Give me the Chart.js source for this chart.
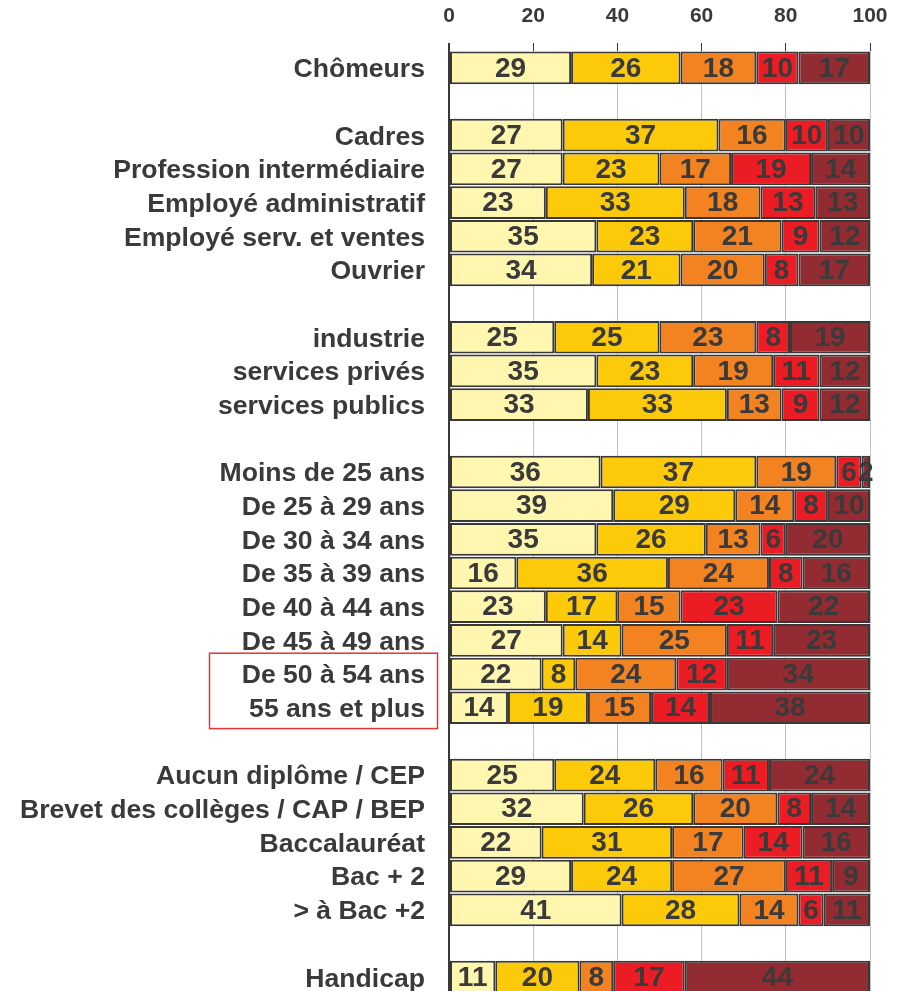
<!DOCTYPE html>
<html>
<head>
<meta charset="utf-8">
<script src="https://cdn.jsdelivr.net/npm/chart.js@4"></script>
<style>
  html, body { margin: 0; padding: 0; background: #fff; overflow: hidden; }
  #chart { position: absolute; left: 0; top: 0; }
</style>
</head>
<body>
<canvas id="chart" width="904" height="994"></canvas>
<script>
// catégories (les '' sont des lignes vides de séparation)
const categories = [
  "Chômeurs", "",
  "Cadres", "Profession intermédiaire", "Employé administratif", "Employé serv. et ventes", "Ouvrier", "",
  "industrie", "services privés", "services publics", "",
  "Moins de 25 ans", "De 25 à 29 ans", "De 30 à 34 ans", "De 35 à 39 ans", "De 40 à 44 ans",
  "De 45 à 49 ans", "De 50 à 54 ans", "55 ans et plus", "",
  "Aucun diplôme / CEP", "Brevet des collèges / CAP / BEP", "Baccalauréat", "Bac + 2", "> à Bac +2", "",
  "Handicap"
];

// séries (%)
const serie1 = [29,null,27,27,23,35,34,null,25,35,33,null,36,39,35,16,23,27,22,14,null,25,32,22,29,41,null,11];
const serie2 = [26,null,37,23,33,23,21,null,25,23,33,null,37,29,26,36,17,14,8,19,null,24,26,31,24,28,null,20];
const serie3 = [18,null,16,17,18,21,20,null,23,19,13,null,19,14,13,24,15,25,24,15,null,16,20,17,27,14,null,8];
const serie4 = [10,null,10,19,13,9,8,null,8,11,9,null,6,8,6,8,23,11,12,14,null,11,8,14,11,6,null,17];
const serie5 = [17,null,10,14,13,12,17,null,19,12,12,null,2,10,20,16,22,23,34,38,null,24,14,16,9,11,null,44];

const xTicks = [0, 20, 40, 60, 80, 100];

// lignes encadrées en rouge
const boxedRows = ["De 50 à 54 ans", "55 ans et plus"];

const colors = ["#fff6b0", "#fdca0a", "#f38221", "#ec1c24", "#922c32"];
const series = [serie1, serie2, serie3, serie4, serie5];
const TXT = "#3a3a3a";
const FONT = "'Liberation Sans', Arial, sans-serif";

// étiquettes de valeurs centrées dans les segments
const valueLabels = {
  id: "valueLabels",
  afterDatasetsDraw(chart) {
    const ctx = chart.ctx;
    ctx.save();
    ctx.font = "bold 28px " + FONT;
    ctx.fillStyle = TXT;
    ctx.textAlign = "center";
    ctx.textBaseline = "middle";
    chart.data.datasets.forEach((ds, di) => {
      chart.getDatasetMeta(di).data.forEach((bar, i) => {
        const v = ds.data[i];
        if (v == null) return;
        const p = bar.getProps(["x", "y", "base"], true);
        ctx.fillText(String(v), (p.x + p.base) / 2, p.y + 1);
      });
    });
    ctx.restore();
  }
};

// cadre rouge autour des libellés
const redBox = {
  id: "redBox",
  afterDraw(chart) {
    const y = chart.scales.y;
    const i0 = categories.indexOf(boxedRows[0]);
    const i1 = categories.indexOf(boxedRows[boxedRows.length - 1]);
    const half = (y.getPixelForValue(1) - y.getPixelForValue(0)) / 2;
    const top = y.getPixelForValue(i0) - half - 4;
    const bot = y.getPixelForValue(i1) + half + 4;
    const ctx = chart.ctx;
    ctx.save();
    ctx.strokeStyle = "#e8323a";
    ctx.lineWidth = 1.5;
    ctx.strokeRect(209.5, top, 228, bot - top);
    ctx.restore();
  }
};

new Chart(document.getElementById("chart"), {
  type: "bar",
  data: {
    labels: categories,
    datasets: series.map((s, k) => ({
      label: "Modalité " + (k + 1),
      data: s,
      backgroundColor: colors[k],
      borderColor: "#383838",
      borderWidth: 2,
      borderSkipped: false,
      barPercentage: 0.97,
      categoryPercentage: 1
    }))
  },
  options: {
    indexAxis: "y",
    responsive: false,
    animation: false,
    layout: { padding: { left: 0, right: 34, top: 0, bottom: 0 } },
    plugins: { legend: { display: false }, tooltip: { enabled: false } },
    scales: {
      x: {
        position: "top",
        stacked: true,
        min: 0, max: 100,
        afterBuildTicks: (s) => { s.ticks = xTicks.map(v => ({ value: v })); },
        afterFit: (s) => { s.height = 51; s.paddingLeft = 0; s.paddingRight = 0; },
        border: { display: false },
        grid: {
          color: (c) => c.tick && c.tick.value === 0 ? "#383838" : "#c9c1c1",
          lineWidth: (c) => c.tick && c.tick.value === 0 ? 2 : 1,
          tickColor: "#383838",
          tickLength: 8
        },
        ticks: {
          color: TXT,
          padding: 14,
          maxRotation: 0,
          font: { family: FONT, size: 21, weight: "bold" }
        }
      },
      y: {
        stacked: true,
        afterFit: (s) => { s.width = 449; s.paddingTop = 0; s.paddingBottom = 0; },
        grid: { display: false, drawTicks: false },
        border: { display: true, color: "#383838", width: 2 },
        ticks: {
          color: TXT,
          padding: 24,
          labelOffset: 2,
          autoSkip: false,
          font: { family: FONT, size: 26.6, weight: "bold" }
        }
      }
    }
  },
  plugins: [valueLabels, redBox]
});
</script>
</body>
</html>
